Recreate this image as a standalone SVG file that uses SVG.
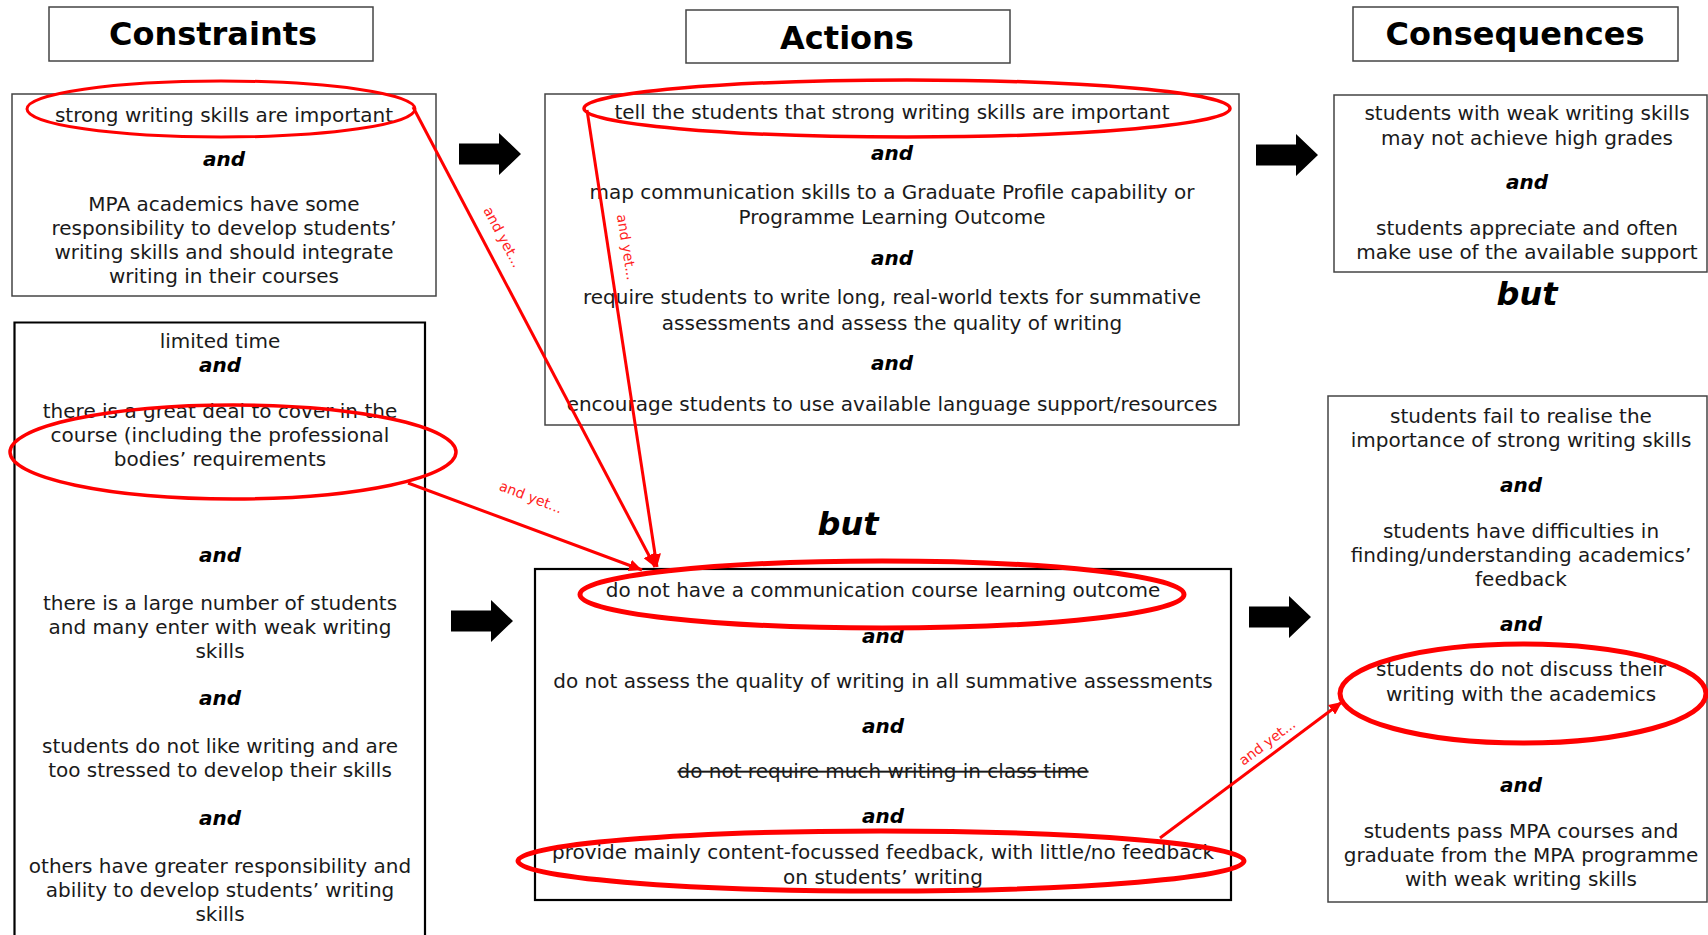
<svg xmlns="http://www.w3.org/2000/svg" width="1708" height="935" viewBox="0 0 1708 935">
<style>
.t{font-family:"DejaVu Sans",Verdana,sans-serif;font-size:20px;fill:#1a1a1a;text-anchor:middle}
.and{font-weight:bold;font-style:italic;fill:#000}
.title{font-weight:bold;font-size:32px;fill:#000}
.but{font-weight:bold;font-style:italic;font-size:32px;fill:#000}
.box{fill:#fff;stroke:#444;stroke-width:1.5}
.boxb{fill:#fff;stroke:#000;stroke-width:2.2}
.ell{fill:none;stroke:#f00}
.red{fill:none;stroke:#f00;stroke-width:3;marker-end:url(#ah)}
.lbl{font-family:"DejaVu Sans",Verdana,sans-serif;font-size:14px;fill:#f22;text-anchor:middle;dominant-baseline:central}
.blk{fill:#000}
.strike{text-decoration:line-through}
</style>
<defs>
<marker id="ah" markerUnits="userSpaceOnUse" markerWidth="14" markerHeight="12" refX="13" refY="6" orient="auto">
<path d="M0,0 L13,6 L0,12 z" fill="#f00"/>
</marker>
<path id="barrow" d="M-62,-10.5 L-22,-10.5 L-22,-21 L0,0 L-22,21 L-22,10.5 L-62,10.5 z"/>
</defs>
<rect width="1708" height="935" fill="#fff"/>

<g id="title-constraints">
<rect class="box" x="49" y="7" width="324" height="54"/>
<text class="t title" x="213" y="45">Constraints</text>
</g>
<g id="title-actions">
<rect class="box" x="686" y="10" width="324" height="53"/>
<text class="t title" x="847" y="49">Actions</text>
</g>
<g id="title-consequences">
<rect class="box" x="1353" y="7" width="325" height="54"/>
<text class="t title" x="1515" y="45">Consequences</text>
</g>

<g id="constraints-1">
<rect class="box" x="12" y="94" width="424" height="202"/>
<text class="t" x="224" y="122">strong writing skills are important</text>
<text class="t and" x="224" y="166">and</text>
<text class="t" x="224" y="211">MPA academics have some</text>
<text class="t" x="224" y="235">responsibility to develop students’</text>
<text class="t" x="224" y="259">writing skills and should integrate</text>
<text class="t" x="224" y="283">writing in their courses</text>
</g>

<g id="constraints-2">
<path class="boxb" d="M14.5,940 L14.5,322.5 L425,322.5 L425,940"/>
<text class="t" x="220" y="348">limited time</text>
<text class="t and" x="220" y="372">and</text>
<text class="t" x="220" y="418">there is a great deal to cover in the</text>
<text class="t" x="220" y="442">course (including the professional</text>
<text class="t" x="220" y="466">bodies’ requirements</text>
<text class="t and" x="220" y="562">and</text>
<text class="t" x="220" y="610">there is a large number of students</text>
<text class="t" x="220" y="634">and many enter with weak writing</text>
<text class="t" x="220" y="658">skills</text>
<text class="t and" x="220" y="705">and</text>
<text class="t" x="220" y="753">students do not like writing and are</text>
<text class="t" x="220" y="777">too stressed to develop their skills</text>
<text class="t and" x="220" y="825">and</text>
<text class="t" x="220" y="873">others have greater responsibility and</text>
<text class="t" x="220" y="897">ability to develop students’ writing</text>
<text class="t" x="220" y="921">skills</text>
</g>

<g id="actions-1">
<rect class="box" x="545" y="94" width="694" height="331"/>
<text class="t" x="892" y="119">tell the students that strong writing skills are important</text>
<text class="t and" x="892" y="160">and</text>
<text class="t" x="892" y="199">map communication skills to a Graduate Profile capability or</text>
<text class="t" x="892" y="224">Programme Learning Outcome</text>
<text class="t and" x="892" y="265">and</text>
<text class="t" x="892" y="304">require students to write long, real-world texts for summative</text>
<text class="t" x="892" y="330">assessments and assess the quality of writing</text>
<text class="t and" x="892" y="370">and</text>
<text class="t" x="892" y="411">encourage students to use available language support/resources</text>
</g>

<g id="but-actions">
<text class="t but" x="848" y="535">but</text>
</g>

<g id="actions-2">
<rect class="boxb" x="535" y="569" width="696" height="331"/>
<text class="t" x="883" y="597">do not have a communication course learning outcome</text>
<text class="t and" x="883" y="643">and</text>
<text class="t" x="883" y="688">do not assess the quality of writing in all summative assessments</text>
<text class="t and" x="883" y="733">and</text>
<text class="t strike" x="883" y="778">do not require much writing in class time</text>
<text class="t and" x="883" y="823">and</text>
<text class="t" x="883" y="859">provide mainly content-focussed feedback, with little/no feedback</text>
<text class="t" x="883" y="884">on students’ writing</text>
</g>

<g id="consequences-1">
<rect class="box" x="1334" y="95" width="373" height="177"/>
<text class="t" x="1527" y="120">students with weak writing skills</text>
<text class="t" x="1527" y="145">may not achieve high grades</text>
<text class="t and" x="1527" y="189">and</text>
<text class="t" x="1527" y="235">students appreciate and often</text>
<text class="t" x="1527" y="259">make use of the available support</text>
</g>

<g id="but-consequences">
<text class="t but" x="1527" y="305">but</text>
</g>

<g id="consequences-2">
<rect class="box" x="1328" y="396" width="379" height="506"/>
<text class="t" x="1521" y="423">students fail to realise the</text>
<text class="t" x="1521" y="447">importance of strong writing skills</text>
<text class="t and" x="1521" y="492">and</text>
<text class="t" x="1521" y="538">students have difficulties in</text>
<text class="t" x="1521" y="562">finding/understanding academics’</text>
<text class="t" x="1521" y="586">feedback</text>
<text class="t and" x="1521" y="631">and</text>
<text class="t" x="1521" y="676">students do not discuss their</text>
<text class="t" x="1521" y="701">writing with the academics</text>
<text class="t and" x="1521" y="792">and</text>
<text class="t" x="1521" y="838">students pass MPA courses and</text>
<text class="t" x="1521" y="862">graduate from the MPA programme</text>
<text class="t" x="1521" y="886">with weak writing skills</text>
</g>

<g id="highlights">
<ellipse class="ell" cx="221" cy="109" rx="194" ry="28" stroke-width="3"/>
<ellipse class="ell" cx="907" cy="108.5" rx="323" ry="28.5" stroke-width="3.5"/>
<ellipse class="ell" cx="233" cy="452" rx="223" ry="47" stroke-width="3.5"/>
<ellipse class="ell" cx="882" cy="594.5" rx="302" ry="33.5" stroke-width="5"/>
<ellipse class="ell" cx="881" cy="861" rx="363" ry="30" stroke-width="5"/>
<ellipse class="ell" cx="1523" cy="693.5" rx="183" ry="49.5" stroke-width="5"/>
</g>

<g id="connectors">
<use href="#barrow" class="blk" x="521" y="154"/>
<use href="#barrow" class="blk" x="1318" y="155"/>
<use href="#barrow" class="blk" x="513" y="621"/>
<use href="#barrow" class="blk" x="1311" y="617"/>
<line class="red" x1="413" y1="107" x2="655" y2="567"/>
<line class="red" x1="587" y1="110" x2="657" y2="567"/>
<line class="red" x1="408" y1="483" x2="642" y2="570"/>
<line class="red" x1="1160" y1="838" x2="1342" y2="702"/>
<text class="lbl" transform="translate(503,237) rotate(62)">and yet...</text>
<text class="lbl" transform="translate(627,247) rotate(81)">and yet...</text>
<text class="lbl" transform="translate(531,497) rotate(21)">and yet...</text>
<text class="lbl" transform="translate(1267,742) rotate(-37)">and yet...</text>
</g>
</svg>
